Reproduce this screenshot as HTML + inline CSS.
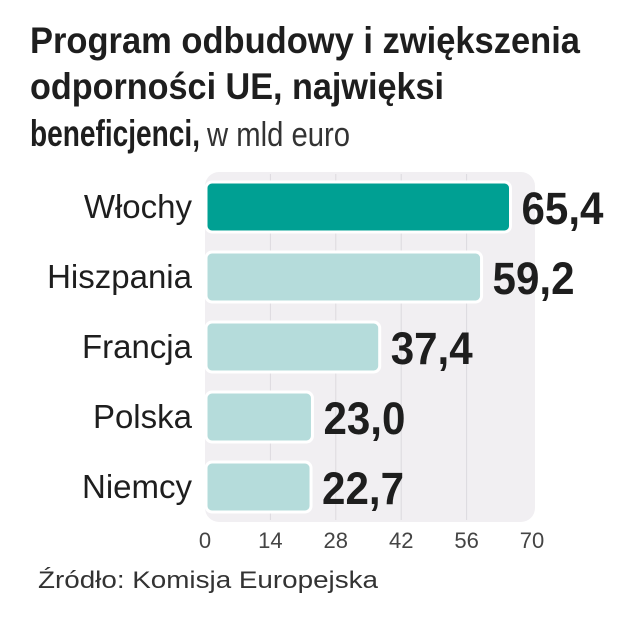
<!DOCTYPE html>
<html><head><meta charset="utf-8">
<style>
html,body{margin:0;padding:0;background:#fff;}
svg{display:block;font-family:"Liberation Sans",sans-serif;}
</style></head>
<body>
<svg id="chart" width="632" height="640" viewBox="0 0 632 640" xmlns="http://www.w3.org/2000/svg">
  <g fill="#1e1e1e" font-weight="bold" font-size="37">
    <text x="30" y="53" textLength="550" lengthAdjust="spacingAndGlyphs">Program odbudowy i zwiększenia</text>
    <text x="30" y="99" textLength="414" lengthAdjust="spacingAndGlyphs">odporności UE, najwięksi</text>
    <text x="30" y="146" textLength="170" lengthAdjust="spacingAndGlyphs">beneficjenci,</text>
    <text x="207" y="146" font-weight="normal" font-size="34" fill="#333" textLength="143" lengthAdjust="spacingAndGlyphs">w mld euro</text>
  </g>
  <rect x="205" y="172" width="330" height="350" rx="14" fill="#f1eff2"/>
  <g id="grid"></g>
  <g id="bars"></g>
  <g id="ticks"></g>
  <text x="38" y="588" font-size="24" fill="#333" textLength="340" lengthAdjust="spacingAndGlyphs">Źródło: Komisja Europejska</text>
</svg>
<script>
const categories = ["Włochy","Hiszpania","Francja","Polska","Niemcy"];
const values = [65.4, 59.2, 37.4, 23.0, 22.7];
const valueLabels = ["65,4","59,2","37,4","23,0","22,7"];
const tickValues = [0,14,28,42,56,70];

const NS = "http://www.w3.org/2000/svg";
const x0 = 205, xMax = 70, pxPer = (532 - 205) / xMax;
const xs = v => x0 + v * pxPer;
const yc = i => 207 + i * 70;
function mk(tag, attrs, parent){const e=document.createElementNS(NS,tag);for(const k in attrs)e.setAttribute(k,attrs[k]);parent.appendChild(e);return e;}

const grid = document.getElementById('grid');
tickValues.forEach(t => {
  if (t === 0 || t === 70) return;
  const l = mk('line', {x1: xs(t), x2: xs(t), y1: 174, y2: 520, stroke: '#dddadf', 'stroke-width': 1}, grid);
  
  
});

const bars = document.getElementById('bars');
categories.forEach((c, i) => {
  const y = yc(i);
  const r = mk('rect', {x: x0 + 1, y: y - 25, width: xs(values[i]) - x0 - 1, height: 50, rx: 6,
    fill: i === 0 ? '#00a093' : '#b5dcdb', stroke: '#ffffff', 'stroke-width': 3}, bars);
  
  
  const lb = mk('text', {x: 192, y: y + 11, 'text-anchor': 'end', 'font-size': 33, fill: '#1e1e1e'}, bars);
  lb.textContent = c;
  
  
  const vl = mk('text', {x: xs(values[i]) + 11, y: y + 17, 'font-size': 45, 'font-weight': 'bold', fill: '#1e1e1e', textLength: 82, lengthAdjust: 'spacingAndGlyphs'}, bars);
  vl.textContent = valueLabels[i];
  
  
});

const ticks = document.getElementById('ticks');
tickValues.forEach(t => {
  const tx = mk('text', {x: xs(t), y: 548, 'text-anchor': 'middle', 'font-size': 22, fill: '#444'}, ticks);
  tx.textContent = t;
  
  
});
</script>
</body></html>
